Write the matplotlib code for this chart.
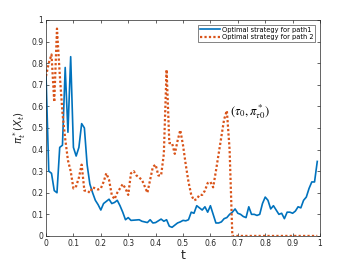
import numpy as np
import matplotlib
matplotlib.use('Agg')
import matplotlib.pyplot as plt

# time grid
t = np.arange(100) / 100.0

# strategy for path 1 (solid blue)
path1 = [0.745, 0.30, 0.29, 0.21, 0.20, 0.41, 0.42, 0.78, 0.48, 0.83,
         0.41, 0.37, 0.41, 0.52, 0.50, 0.33, 0.24, 0.20, 0.165, 0.145,
         0.12, 0.15, 0.16, 0.17, 0.15, 0.155, 0.165, 0.14, 0.11, 0.075,
         0.085, 0.072, 0.073, 0.074, 0.075, 0.068, 0.065, 0.062, 0.075, 0.06,
         0.062, 0.07, 0.078, 0.068, 0.075, 0.045, 0.04, 0.05, 0.06, 0.065,
         0.072, 0.07, 0.075, 0.11, 0.105, 0.14, 0.13, 0.12, 0.135, 0.11,
         0.14, 0.10, 0.06, 0.06, 0.065, 0.08, 0.085, 0.10, 0.11, 0.125,
         0.105, 0.10, 0.09, 0.085, 0.135, 0.10, 0.10, 0.095, 0.10, 0.15,
         0.18, 0.165, 0.125, 0.14, 0.12, 0.10, 0.105, 0.08, 0.11, 0.11,
         0.105, 0.115, 0.135, 0.13, 0.165, 0.18, 0.22, 0.25, 0.25, 0.345]

# strategy for path 2 (dotted orange), zero after stopping time
path2 = [0.74, 0.80, 0.84, 0.62, 0.96, 0.75, 0.57, 0.45, 0.35, 0.30,
         0.22, 0.23, 0.27, 0.33, 0.21, 0.21, 0.20, 0.225, 0.22, 0.215,
         0.22, 0.25, 0.29, 0.26, 0.19, 0.17, 0.20, 0.22, 0.24, 0.22,
         0.19, 0.29, 0.30, 0.28, 0.27, 0.26, 0.23, 0.20, 0.26, 0.32,
         0.33, 0.28, 0.28, 0.38, 0.77, 0.43, 0.43, 0.38, 0.44, 0.49,
         0.42, 0.33, 0.25, 0.19, 0.165, 0.17, 0.19, 0.19, 0.21, 0.245,
         0.25, 0.225, 0.30, 0.38, 0.46, 0.54, 0.58, 0.40, 0.0, 0.0,
         0.0, 0.0, 0.0, 0.0, 0.0, 0.0, 0.0, 0.0, 0.0, 0.0,
         0.0, 0.0, 0.0, 0.0, 0.0, 0.0, 0.0, 0.0, 0.0, 0.0,
         0.0, 0.0, 0.0, 0.0, 0.0, 0.0, 0.0, 0.0, 0.0, 0.0]

ticks = np.arange(11) / 10.0
tick_labels = ['0', '0.1', '0.2', '0.3', '0.4', '0.5', '0.6', '0.7', '0.8', '0.9', '1']

gray = '#262626'
fig = plt.figure(figsize=(3.54, 2.66), dpi=100)
ax = fig.add_axes([0.130, 0.113, 0.774, 0.812])

ax.plot(t, path1, color='#0072BD', lw=1.2, label='Optimal strategy for path1')
ax.plot(t, path2, color='#D95319', lw=1.6, ls=(0, (1, 1)), label='Optimal strategy for path 2')

ax.set_xlim(0, 1)
ax.set_ylim(0, 1)
ax.set_xticks(ticks)
ax.set_xticklabels(tick_labels)
ax.set_yticks(ticks)
ax.set_yticklabels(tick_labels)
ax.tick_params(direction='in', top=True, right=True, labelsize=5.5,
               colors=gray, length=2.5, width=0.5, pad=2)
for s in ax.spines.values():
    s.set_linewidth(0.5)
    s.set_color(gray)

ax.set_xlabel('t', fontsize=9, color=gray, labelpad=1)
ax.set_ylabel(r'$\pi^*_t(X_t)$', fontsize=7.5, color=gray, labelpad=2)

ax.text(0.672, 0.53, r'$(\tau_0,\pi^*_{\tau 0})$', fontsize=9, color='k',
        ha='left', va='bottom', math_fontfamily='stix')

leg = ax.legend(loc='upper right', fontsize=4.8, frameon=True, fancybox=False,
                borderpad=0.3, handlelength=3.0, labelspacing=0.2,
                borderaxespad=0.7, handletextpad=0.3)
leg.get_frame().set_linewidth(0.5)
leg.get_frame().set_edgecolor(gray)

fig.savefig('out.png', dpi=100)
